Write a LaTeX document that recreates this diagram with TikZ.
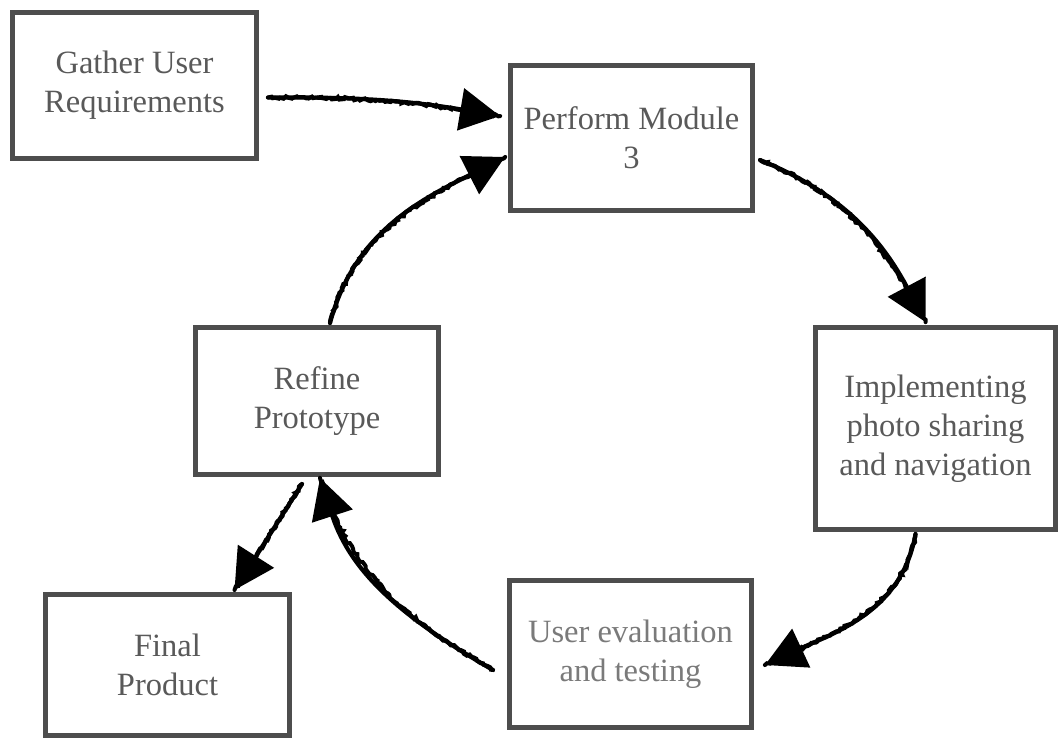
\documentclass[tikz,border=0pt]{standalone}
\usepackage{fontspec}
\setmainfont{Liberation Serif}
\usetikzlibrary{arrows.meta,decorations.pathmorphing}
\definecolor{boxline}{HTML}{4D4D4D}
\definecolor{boxtext}{HTML}{595959}
\definecolor{lighttext}{HTML}{7A7A7A}
\begin{document}
\begin{tikzpicture}[x=1pt,y=-1pt,
  stepbox/.style={draw=boxline, line width=5pt, fill=white, inner sep=0pt,
    align=center, text=boxtext, font=\fontsize{32.5}{39}\selectfont},
  flow/.style={line width=4.2pt, line cap=round, draw=black,
    -{Triangle[length=40pt,width=42pt]},
    preaction={draw, -, line width=4pt, line cap=round, decorate,
      decoration={random steps, segment length=2.5pt, amplitude=1.4pt}}}
]
\useasboundingbox (0,0) rectangle (1058,740);
\fill[white] (0,0) rectangle (1058,740);

\node[stepbox, minimum width=244pt, minimum height=146pt] (G) at (134.5,85.5) {Gather User\\Requirements};
\node[stepbox, minimum width=242pt, minimum height=145pt] (P) at (631.5,138) {Perform Module\\3};
\node[stepbox, minimum width=240pt, minimum height=202pt] (I) at (935.5,428.5) {Implementing\\photo sharing\\and navigation};
\node[stepbox, minimum width=242pt, minimum height=147pt, text=lighttext] (U) at (630.5,654) {User evaluation\\and testing};
\node[stepbox, minimum width=243pt, minimum height=147pt] (R) at (317,401) {Refine\\Prototype};
\node[stepbox, minimum width=244pt, minimum height=141pt] (F) at (167.5,665) {Final\\Product};

\draw[flow] ([shift={(9,12)}]G.east) to[bend left=5] ([shift={(-8,-22)}]P.west);
\draw[flow] ([shift={(13,-2)}]R.north) to[out=75,in=207] ([shift={(-3,19)}]P.west);
\draw[flow] ([shift={(5,22)}]P.east) to[out=-22,in=118] ([shift={(-10,-3)}]I.north);
\draw[flow] ([shift={(-20,2)}]I.south) to[out=-100,in=25] ([shift={(11,11)}]U.east);
\draw[flow] ([shift={(-14,16)}]U.west) to[out=150,in=-72] ([shift={(3,1)}]R.south);
\draw[flow] ([shift={(-15,7)}]R.south) -- ([shift={(67,-2)}]F.north);
\end{tikzpicture}
\end{document}
